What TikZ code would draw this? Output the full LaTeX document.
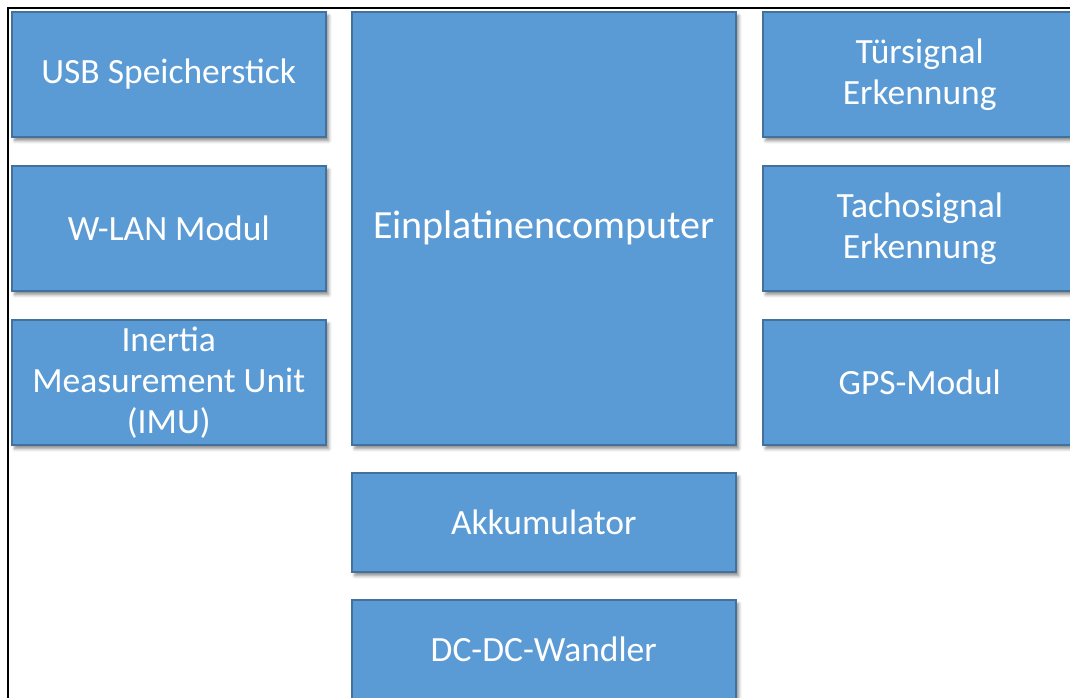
\documentclass[tikz,border=0pt]{standalone}
\usepackage{fontspec}
\setmainfont{Carlito}
\usepackage{tikz}
\usetikzlibrary{positioning,shadows.blur}
\definecolor{boxfill}{HTML}{5B9BD5}
\definecolor{boxline}{HTML}{41719C}
\tikzset{%
	module/.style  = {draw=boxline, fill=boxfill, line width=1.5pt, rectangle, text=white, align=center,
	                  font=\fontsize{35.5}{41}\selectfont, inner sep=0pt, minimum width=314pt, minimum height=125pt,
	                  blur shadow={shadow xshift=3pt, shadow yshift=-4pt, shadow blur radius=3pt, shadow opacity=45}},
	widebox/.style = {module, minimum width=384pt, minimum height=99pt},
	frame/.style   = {draw=black, line width=2.5pt},
}

\begin{document}
\begin{tikzpicture}[x=1pt,y=-1pt]
	\clip (0,0) rectangle (1070,697);
	\draw[frame] (8,8) rectangle (1200,800);

	% left column
	\node [module,anchor=north west] (usb) at (11,11) {USB Speicherstick};
	\node [module] (wlan) [below=27.5pt of usb] {W-LAN Modul};
	\node [module] (imu) [below=27.5pt of wlan] {Inertia\\Measurement Unit\\(IMU)};

	% centre column
	\node [module,minimum width=384pt,minimum height=433pt,font=\fontsize{40}{48}\selectfont]
		(sbc) [right=24.5pt of usb.north east,anchor=north west] {Einplatinencomputer};
	\node [widebox] (akku) [below=26.5pt of sbc] {Akkumulator};
	\node [widebox] (dcdc) [below=26.5pt of akku] {DC-DC-Wandler};

	% right column
	\node [module] (door) [right=25.5pt of sbc.north east,anchor=north west] {Türsignal\\Erkennung};
	\node [module] (tacho) [below=27.5pt of door] {Tachosignal\\Erkennung};
	\node [module] (gps) [below=27.5pt of tacho] {GPS-Modul};
\end{tikzpicture}
\end{document}
